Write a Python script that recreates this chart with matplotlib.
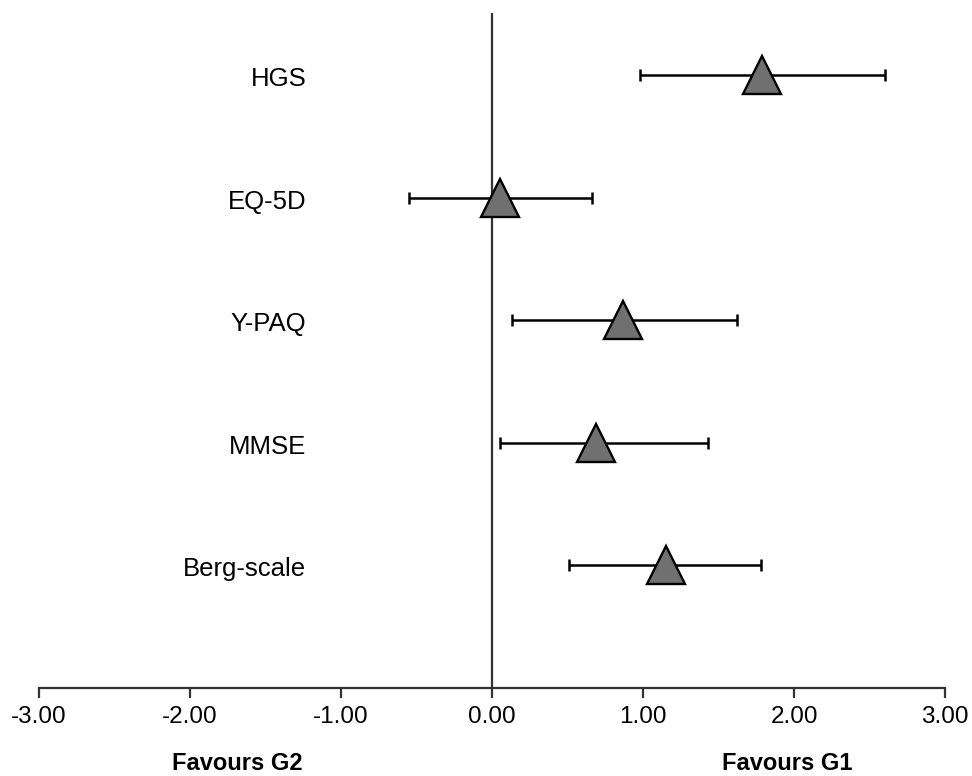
import matplotlib
matplotlib.use("Agg")
import matplotlib.pyplot as plt

plt.rcParams['font.family'] = ['Liberation Sans', 'DejaVu Sans']

categories = ["HGS", "EQ-5D", "Y-PAQ", "MMSE", "Berg-scale"]
estimates = [1.79, 0.05, 0.87, 0.69, 1.15]
lower = [0.98, -0.55, 0.13, 0.05, 0.51]
upper = [2.60, 0.66, 1.62, 1.43, 1.78]
xticks = [-3, -2, -1, 0, 1, 2, 3]
xticklabels = ["-3.00", "-2.00", "-1.00", "0.00", "1.00", "2.00", "3.00"]

fig = plt.figure(figsize=(9.72, 7.76), dpi=100)
ax = fig.add_axes([39/972, 88/776, (945-39)/972, (688-13)/776])

ypos = list(range(len(categories), 0, -1))
xerr = [[e - l for e, l in zip(estimates, lower)], [u - e for u, e in zip(upper, estimates)]]

ax.axvline(0, color="#333333", lw=1.6, zorder=1)
ax.errorbar(estimates, ypos, xerr=xerr, fmt="none", ecolor="black",
            elinewidth=1.8, capsize=4.5, capthick=1.8, zorder=2)
ax.plot(estimates, ypos, linestyle="none", marker="^", markersize=27,
        markerfacecolor="#707070", markeredgecolor="black", markeredgewidth=1.7, zorder=3)

for cat, y in zip(categories, ypos):
    ax.text(-1.23, y - 0.03, cat, ha="right", va="center", fontsize=18.5, color="black")

ax.set_xlim(-3, 3)
ax.set_ylim(0, 5.51)
ax.set_xticks(xticks)
ax.set_xticklabels(xticklabels, fontsize=17.5)
ax.set_yticks([])
for s in ["top", "right", "left"]:
    ax.spines[s].set_visible(False)
ax.spines["bottom"].set_color("#333333")
ax.spines["bottom"].set_linewidth(1.6)
ax.tick_params(axis="x", direction="out", length=7, width=1.6, color="#333333", pad=6)

fig.text(237/972, 1 - 763/776, "Favours G2", ha="center", va="center",
         fontsize=17, fontweight="bold")
fig.text(787/972, 1 - 763/776, "Favours G1", ha="center", va="center",
         fontsize=17, fontweight="bold")

fig.savefig("out.png", dpi=100)
